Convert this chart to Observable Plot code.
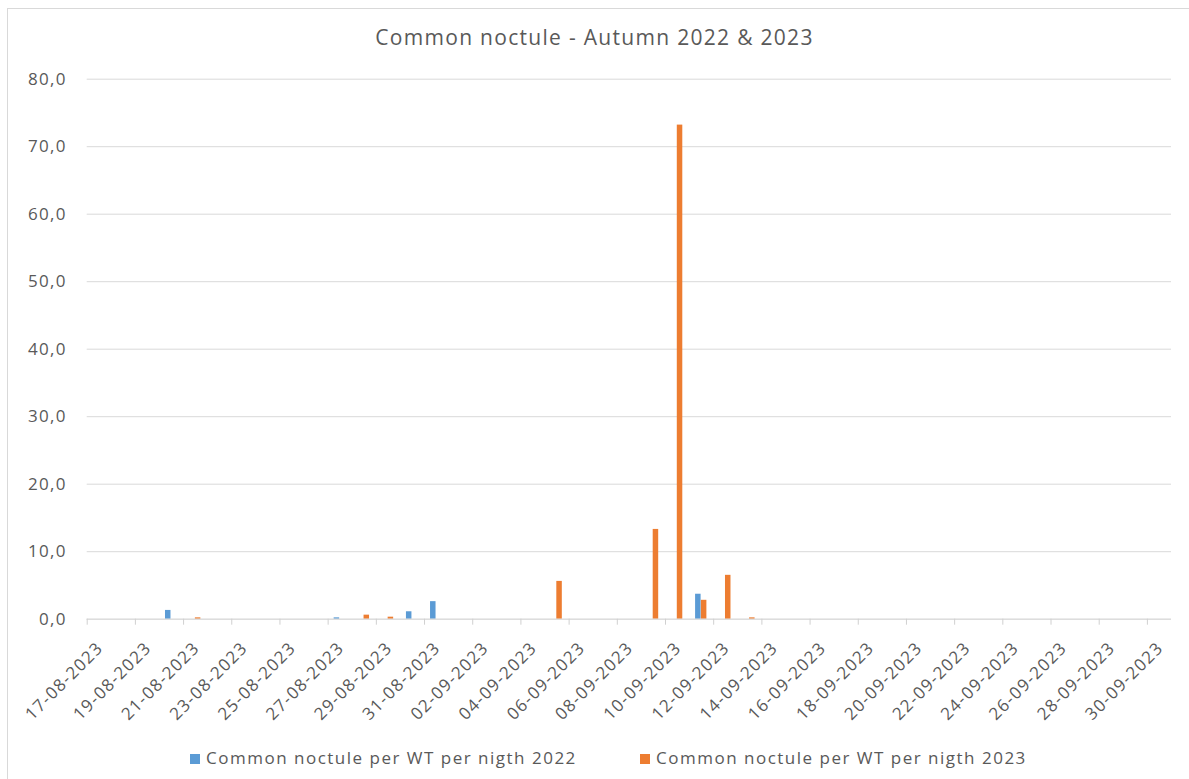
<!DOCTYPE html>
<html>
<head>
<meta charset="utf-8">
<script src="https://cdn.jsdelivr.net/npm/d3@7"></script>
<script src="https://cdn.jsdelivr.net/npm/@observablehq/plot@0.6"></script>
<style>
  html, body { margin: 0; padding: 0; background: #fff; }
  #chart { position: relative; width: 1189px; height: 779px; overflow: hidden;
           font-family: "Open Sans", sans-serif; color: #595959; }
  #frame { position: absolute; left: 7px; top: 8px; width: 1400px; height: 1000px;
           border: 1px solid #d9d9d9; box-sizing: border-box; }
  #title { position: absolute; left: 0; top: 23px; width: 1189px; text-align: center;
           font-size: 21px; line-height: 28px; letter-spacing: 1.3px; }
  #plot { position: absolute; left: 0; top: 60px; }
  #legend { position: absolute; left: 0; top: 745px; width: 1189px; height: 26px;
            font-size: 17px; line-height: 26px; letter-spacing: 1.5px; }
  .item { position: absolute; top: 0; white-space: nowrap; }
  .swatch { display: inline-block; width: 10px; height: 10px; margin-right: 6px; vertical-align: 0px; }
</style>
</head>
<body>
<div id="chart">
  <div id="frame"></div>
  <div id="title"></div>
  <div id="plot"></div>
  <div id="legend"></div>
</div>
<script>
// Nights of the autumn survey (one category per night)
const nights = [
  "2023-08-17","2023-08-18","2023-08-19","2023-08-20","2023-08-21","2023-08-22","2023-08-23",
  "2023-08-24","2023-08-25","2023-08-26","2023-08-27","2023-08-28","2023-08-29","2023-08-30",
  "2023-08-31","2023-09-01","2023-09-02","2023-09-03","2023-09-04","2023-09-05","2023-09-06",
  "2023-09-07","2023-09-08","2023-09-09","2023-09-10","2023-09-11","2023-09-12","2023-09-13",
  "2023-09-14","2023-09-15","2023-09-16","2023-09-17","2023-09-18","2023-09-19","2023-09-20",
  "2023-09-21","2023-09-22","2023-09-23","2023-09-24","2023-09-25","2023-09-26","2023-09-27",
  "2023-09-28","2023-09-29","2023-09-30"
];

// Common noctule per wind turbine per night
const perNight2022 = [
  0, 0, 0, 1.3, 0, 0, 0, 0, 0, 0, 0.2, 0, 0, 1.1, 2.6, 0, 0, 0, 0, 0, 0, 0, 0,
  0, 0, 3.7, 0, 0, 0, 0, 0, 0, 0, 0, 0, 0, 0, 0, 0, 0, 0, 0, 0, 0, 0
];
const perNight2023 = [
  0, 0, 0, 0, 0.2, 0, 0, 0, 0, 0, 0, 0.6, 0.3, 0, 0, 0, 0, 0, 0, 5.6, 0, 0, 0,
  13.3, 73.2, 2.8, 6.5, 0.2, 0, 0, 0, 0, 0, 0, 0, 0, 0, 0, 0, 0, 0, 0, 0, 0, 0
];

const seriesNames = ["Common noctule per WT per nigth 2022", "Common noctule per WT per nigth 2023"];
const seriesColors = ["#5b9bd5", "#ed7d31"];
const yTicks = [0, 10, 20, 30, 40, 50, 60, 70, 80];
const titleText = "Common noctule - Autumn 2022 & 2023";

const parse = d3.utcParse("%Y-%m-%d");
const days = nights.map(parse);
const rows2022 = days.map((date, i) => ({date, value: perNight2022[i]}));
const rows2023 = days.map((date, i) => ({date, value: perNight2023[i]}));
// every second night gets a labelled tick
const xTicks = days.filter((d, i) => i % 2 === 0);

const fmtDay = d3.utcFormat("%d-%m-%Y");
const fmtVal = v => d3.format(".1f")(v).replace(".", ",");

document.getElementById("title").textContent = titleText;

const chart = Plot.plot({
  width: 1189,
  height: 680,
  marginTop: 18.7,
  marginBottom: 121.3,
  marginLeft: 86.7,
  marginRight: 18,
  style: {fontFamily: "Open Sans, sans-serif", color: "#595959", background: "transparent",
          letterSpacing: "1.3px"},
  x: {type: "utc", domain: [days[0], d3.utcDay.offset(days[days.length - 1], 1)]},
  y: {domain: [0, 80]},
  marks: [
    Plot.gridY(yTicks, {stroke: "#d9d9d9", strokeOpacity: 1}),
    Plot.axisY(yTicks, {tickSize: 0, tickPadding: 20.5, tickFormat: fmtVal, fontSize: 17, label: null}),
    Plot.rectY(rows2022, {x: "date", interval: "day", y: "value", fill: seriesColors[0],
      insetLeft: 6, insetRight: 12.6}),
    Plot.rectY(rows2023, {x: "date", interval: "day", y: "value", fill: seriesColors[1],
      insetLeft: 11.8, insetRight: 6.8}),
    Plot.ruleY([0], {stroke: "#d9d9d9"}),
    Plot.axisX(xTicks, {tickSize: 6, stroke: "#d0d0d0", strokeOpacity: 1, text: null, label: null}),
    Plot.axisX(xTicks, {tickSize: 0, tickFormat: fmtDay, tickRotate: -45, fontSize: 17,
      tickPadding: 4, dx: 13, dy: 22, fill: "#595959", label: null})
  ]
});
document.getElementById("plot").appendChild(chart);

// Legend below the plot
const legend = d3.select("#legend");
const legendLeft = [190, 640];
seriesNames.forEach((name, i) => {
  const item = legend.append("div").attr("class", "item").style("left", legendLeft[i] + "px");
  item.append("span").attr("class", "swatch").style("background", seriesColors[i]);
  item.append("span").text(name);
});
</script>
</body>
</html>
